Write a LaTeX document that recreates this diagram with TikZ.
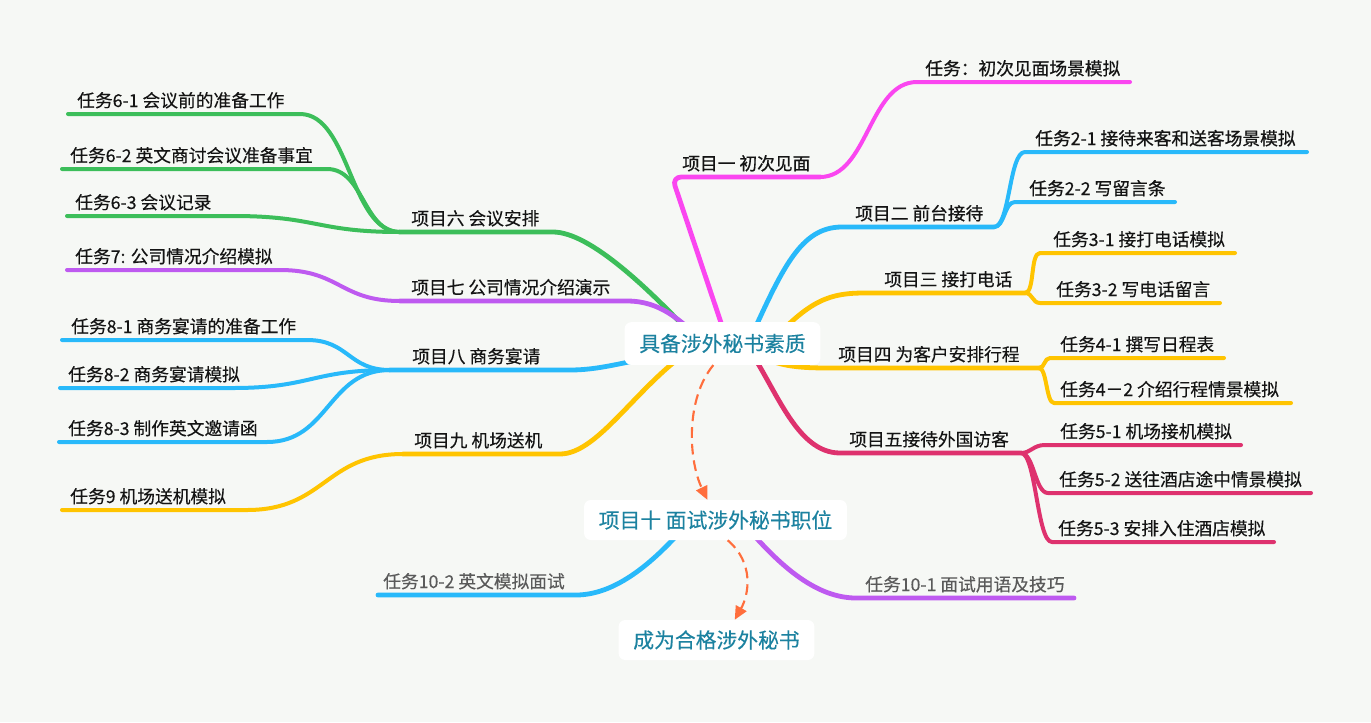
\documentclass[tikz,border=0pt]{standalone}
\usepackage{fontspec}
\setmainfont{Noto Sans CJK SC}[FakeBold=0.25]
\newfontfamily\heavycjk[FakeBold=0.7]{Noto Sans CJK SC}
\usetikzlibrary{arrows.meta, calc}

\definecolor{bgc}{RGB}{246,248,245}
\definecolor{magc}{RGB}{250,70,240}
\definecolor{bluec}{RGB}{40,185,250}
\definecolor{yelc}{RGB}{255,196,0}
\definecolor{redc}{RGB}{222,50,110}
\definecolor{grnc}{RGB}{60,190,90}
\definecolor{purc}{RGB}{190,90,240}
\definecolor{tealc}{RGB}{28,130,160}
\definecolor{orgc}{RGB}{255,110,60}
\definecolor{txtc}{RGB}{20,20,20}
\definecolor{grayc}{RGB}{90,90,90}

\tikzset{
  main/.style={line width=3.6pt, line cap=round, line join=round},
  sub/.style={line width=3pt, line cap=round, line join=round},
  lbl/.style={anchor=base west, inner sep=0pt, text=txtc, font=\fontsize{13.3}{15}\selectfont},
  lblb/.style={lbl, font=\heavycjk\fontsize{13.3}{15}\selectfont},
  topic/.style={fill=white, rounded corners=5pt, text=tealc, inner xsep=11pt,
    minimum height=30pt, font=\fontsize{15.6}{18}\selectfont},
  flow/.style={orgc, line width=1.6pt, dash pattern=on 8pt off 4.5pt,
    -{Triangle[length=10pt, width=9pt]}}
}

\begin{document}
\begin{tikzpicture}[x=0.75pt, y=-0.75pt]
\path[use as bounding box, fill=bgc] (0,0) rectangle (1371,722);

\coordinate (rc) at (722.5,343.5);
\coordinate (pc) at (715.5,520);

% right side
\coordinate (b1) at (672,177);  \coordinate (c1) at (820,177);
\coordinate (t1) at (917,82);   \coordinate (u1) at (1130,82);
\coordinate (b2) at (842,227);  \coordinate (c2) at (994,227);
\coordinate (t21) at (1025,152); \coordinate (u21) at (1307,152);
\coordinate (t22) at (1015,202); \coordinate (u22) at (1175,202);
\coordinate (b3) at (865,293);  \coordinate (c3) at (1025,293);
\coordinate (t31) at (1040,253); \coordinate (u31) at (1235,253);
\coordinate (t32) at (1040,303); \coordinate (u32) at (1220,303);
\coordinate (b4) at (830,368);  \coordinate (c4) at (1039,368);
\coordinate (t41) at (1050,358); \coordinate (u41) at (1224,358);
\coordinate (t42) at (1054,403); \coordinate (u42) at (1291,403);
\coordinate (b5) at (840,453);  \coordinate (c5) at (1021,453);
\coordinate (t51) at (1045,445); \coordinate (u51) at (1241,445);
\coordinate (t52) at (1048,493); \coordinate (u52) at (1311,493);
\coordinate (t53) at (1052,542); \coordinate (u53) at (1274,542);

% left side
\coordinate (b6) at (553,232);  \coordinate (c6) at (400,232);
\coordinate (t61) at (300,114); \coordinate (u61) at (68,114);
\coordinate (t62) at (327,169); \coordinate (u62) at (62,169);
\coordinate (t63) at (233,216); \coordinate (u63) at (67,216);
\coordinate (b7) at (627,301);  \coordinate (c7) at (400,301);
\coordinate (t7) at (280,270);  \coordinate (u7) at (67,270);
\coordinate (b8) at (570,370);  \coordinate (c8) at (390,370);
\coordinate (t81) at (307,340); \coordinate (u81) at (62,340);
\coordinate (t82) at (233,388); \coordinate (u82) at (60,388);
\coordinate (t83) at (267,442); \coordinate (u83) at (59,442);
\coordinate (b9) at (560,454);  \coordinate (c9) at (403,454);
\coordinate (t9) at (247,510);  \coordinate (u9) at (62,510);

% bottom
\coordinate (t102) at (576,595); \coordinate (u102) at (378,595);
\coordinate (t101) at (856,598); \coordinate (u101) at (1074,598);

% branches
\draw[main, magc, rounded corners=7pt] ($(rc)+(5.5,0)$) -- (b1) -- (c1);
\draw[sub, magc] (c1) .. controls +(48,0) and +(-48,0) .. (t1) -- (u1);

\draw[main, bluec] ($(rc)+(25.5,0)$) .. controls +(34,-74) and +(-42,0) .. (b2) -- (c2);
\draw[sub, bluec] (c2) .. controls +(16,0) and +(-16,0) .. (t21) -- (u21);
\draw[sub, bluec] (c2) .. controls +(11,0) and +(-11,0) .. (t22) -- (u22);

\draw[main, yelc] ($(rc)+(47.5,0)$) .. controls +(40,-44) and +(-35,0) .. (b3) -- (c3);
\draw[sub, yelc] (c3) .. controls +(10,0) and +(-10,0) .. (t31) -- (u31);
\draw[sub, yelc] (c3) .. controls +(8,0) and +(-8,0) .. (t32) -- (u32);

\draw[main, yelc] ($(rc)+(17.5,0)$) .. controls +(30,22) and +(-40,0) .. (b4) -- (c4);
\draw[sub, yelc] (c4) .. controls +(6,0) and +(-6,0) .. (t41) -- (u41);
\draw[sub, yelc] (c4) .. controls +(8,0) and +(-8,0) .. (t42) -- (u42);

\draw[main, redc] ($(rc)+(22.5,0)$) .. controls +(30,41) and +(-45,0) .. (b5) -- (c5);
\draw[sub, redc] (c5) .. controls +(10,0) and +(-12,0) .. (t51) -- (u51);
\draw[sub, redc] (c5) .. controls +(13,0) and +(-13,0) .. (t52) -- (u52);
\draw[sub, redc] (c5) .. controls +(15,0) and +(-15,0) .. (t53) -- (u53);

\draw[main, grnc] ($(rc)+(-22.5,0)$) .. controls +(-50,-54) and +(37,0) .. (b6) -- (c6);
\draw[sub, grnc] (c6) .. controls +(-50,0) and +(50,0) .. (t61) -- (u61);
\draw[sub, grnc] (c6) .. controls +(-37,0) and +(37,0) .. (t62) -- (u62);
\draw[sub, grnc] (c6) .. controls +(-84,0) and +(84,0) .. (t63) -- (u63);

\draw[main, purc] ($(rc)+(-17.5,0)$) .. controls +(-25,-24) and +(33,0) .. (b7) -- (c7);
\draw[sub, purc] (c7) .. controls +(-60,0) and +(60,0) .. (t7) -- (u7);

\draw[main, bluec] ($(rc)+(-22.5,8)$) .. controls +(-60,4) and +(40,0) .. (b8) -- (c8);
\draw[sub, bluec] (c8) .. controls +(-42,0) and +(42,0) .. (t81) -- (u81);
\draw[sub, bluec] (c8) .. controls +(-78,0) and +(78,0) .. (t82) -- (u82);
\draw[sub, bluec] (c8) .. controls +(-62,0) and +(62,0) .. (t83) -- (u83);

\draw[main, yelc] ($(rc)+(-22.5,0)$) .. controls +(-60,36) and +(40,0) .. (b9) -- (c9);
\draw[sub, yelc] (c9) .. controls +(-78,0) and +(78,0) .. (t9) -- (u9);

\draw[main, bluec] ($(pc)+(-25,0)$) .. controls +(-30,35) and +(44,0) .. (t102) -- (u102);
\draw[main, purc] ($(pc)+(25,0)$) .. controls +(30,35) and +(-46,0) .. (t101) -- (u101);

% topics
\node[topic, minimum height=32pt] (root) at (rc) {具备涉外秘书素质};
\node[topic] (p10) at (pc) {项目十 面试涉外秘书职位};
\node[topic] (goal) at (716.5,640) {成为合格涉外秘书};

\draw[flow] (root.-113) .. controls +(-28,34) and +(-19,-40) .. (p10.112);
\draw[flow] (p10.-59) .. controls +(27,23) and +(14,-25) .. (goal.48);

% labels
\node[lblb] (n1) at (682,170) {项目一 初次见面};
\node[lblb] (n11) at (925,75) {任务：初次见面场景模拟};
\node[lblb] (n2) at (855,220) {项目二 前台接待};
\node[lblb] (n21) at (1035,145) {任务2-1 接待来客和送客场景模拟};
\node[lblb] (n22) at (1029,195) {任务2-2 写留言条};
\node[lbl] (n3) at (884,286) {项目三 接打电话};
\node[lbl] (n31) at (1053,246) {任务3-1 接打电话模拟};
\node[lbl] (n32) at (1056,296) {任务3-2 写电话留言};
\node[lbl] (n4) at (838,361) {项目四 为客户安排行程};
\node[lbl] (n41) at (1060,351) {任务4-1 撰写日程表};
\node[lbl] (n42) at (1060,396) {任务4－2 介绍行程情景模拟};
\node[lbl] (n5) at (849,446) {项目五接待外国访客};
\node[lbl] (n51) at (1060,438) {任务5-1 机场接机模拟};
\node[lbl] (n52) at (1059,486) {任务5-2 送往酒店途中情景模拟};
\node[lbl] (n53) at (1058,535) {任务5-3 安排入住酒店模拟};

\node[lbl] (n6) at (411,225) {项目六 会议安排};
\node[lbl] (n61) at (77,107) {任务6-1 会议前的准备工作};
\node[lbl] (n62) at (70,162) {任务6-2 英文商讨会议准备事宜};
\node[lbl] (n63) at (75,209) {任务6-3 会议记录};
\node[lbl] (n7) at (411,294) {项目七 公司情况介绍演示};
\node[lbl] (n71) at (75,263) {任务7: 公司情况介绍模拟};
\node[lbl] (n8) at (412,363) {项目八 商务宴请};
\node[lbl] (n81) at (71,333) {任务8-1 商务宴请的准备工作};
\node[lbl] (n82) at (68,381) {任务8-2 商务宴请模拟};
\node[lbl] (n83) at (68,435) {任务8-3 制作英文邀请函};
\node[lbl] (n9) at (414,447) {项目九 机场送机};
\node[lbl] (n91) at (70,503) {任务9 机场送机模拟};

\node[lbl, text=grayc] (n102) at (383,588) {任务10-2 英文模拟面试};
\node[lbl, text=grayc] (n101) at (865,591) {任务10-1 面试用语及技巧};

\end{tikzpicture}
\end{document}
